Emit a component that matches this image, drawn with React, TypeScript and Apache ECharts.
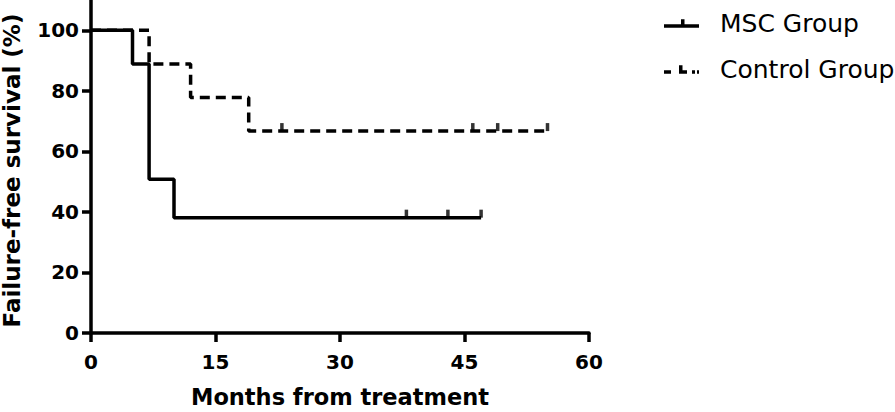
import React, { useEffect, useRef } from "react";
import * as echarts from "echarts";

// Kaplan–Meier step points [month, survival %]
const mscSteps: [number, number][] = [
  [0, 100],
  [5, 88.9],
  [7, 50.8],
  [10, 38.1],
  [47, 38.1],
];
const controlSteps: [number, number][] = [
  [0, 100],
  [7, 88.9],
  [12, 77.8],
  [19, 66.7],
  [55, 66.7],
];
// censored observations
const mscCensored: [number, number][] = [
  [38, 38.1],
  [43, 38.1],
  [47, 38.1],
];
const controlCensored: [number, number][] = [
  [23, 66.7],
  [46, 66.7],
  [49, 66.7],
  [55, 66.7],
];
const xTicks = [0, 15, 30, 45, 60];
const yTicks = [0, 20, 40, 60, 80, 100];
const seriesNames = ["MSC Group", "Control Group"];

const FONT = "DejaVu Sans";

export default function App() {
  const ref = useRef<HTMLDivElement>(null);
  useEffect(() => {
    if (!ref.current) return;
    const chart = echarts.init(ref.current, undefined, { renderer: "svg" });
    const mscIcon =
      "path://M0,6.5 L35,6.5 L35,10 L0,10 Z M17,1.5 L20.5,1.5 L20.5,6.5 L17,6.5 Z";
    const ctrlIcon =
      "path://M0,6.5 L7,6.5 L7,10 L0,10 Z M15,6.5 L23,6.5 L23,10 L15,10 Z M15,1.5 L18.5,1.5 L18.5,6.5 L15,6.5 Z M28,6.5 L31,6.5 L31,10 L28,10 Z M33,6.5 L35,6.5 L35,10 L33,10 Z";
    chart.setOption({
      animation: false,
      grid: {
        left: 91,
        right: 306,
        top: 0,
        bottom: 79,
        containLabel: false,
        outerBoundsMode: "none",
      },
      legend: {
        orient: "vertical",
        left: 664,
        top: 11,
        padding: 0,
        itemWidth: 35,
        itemHeight: 12,
        itemGap: 21,
        textStyle: {
          fontFamily: FONT,
          fontSize: 25,
          lineHeight: 25,
          color: "#000",
          padding: [0, 0, 0, 16],
        },
        data: [
          { name: seriesNames[0], icon: mscIcon },
          { name: seriesNames[1], icon: ctrlIcon },
        ],
      },
      xAxis: {
        type: "value",
        min: xTicks[0],
        max: xTicks[xTicks.length - 1],
        interval: 15,
        name: "Months from treatment",
        nameLocation: "middle",
        nameGap: 52,
        nameTextStyle: {
          fontFamily: FONT,
          fontWeight: "bold",
          fontSize: 22.5,
          color: "#000",
        },
        axisLine: { show: true, lineStyle: { color: "#000", width: 3.5 } },
        axisTick: { show: true, length: 9, lineStyle: { color: "#000", width: 3.5 } },
        axisLabel: {
          margin: 19,
          fontFamily: FONT,
          fontWeight: "bold",
          fontSize: 20,
          color: "#000",
        },
        splitLine: { show: false },
      },
      yAxis: {
        type: "value",
        min: 0,
        max: 110,
        interval: 20,
        name: "Failure-free survival (%)",
        nameLocation: "middle",
        nameGap: 68,
        nameTextStyle: {
          fontFamily: FONT,
          fontWeight: "bold",
          fontSize: 23,
          color: "#000",
          padding: [0, 8, 0, 0],
        },
        axisLine: { show: true, lineStyle: { color: "#000", width: 3.5 } },
        axisTick: {
          show: true,
          length: 9,
          customValues: yTicks,
          lineStyle: { color: "#000", width: 3.5 },
        },
        axisLabel: {
          margin: 12,
          customValues: yTicks,
          fontFamily: FONT,
          fontWeight: "bold",
          fontSize: 20,
          color: "#000",
        },
        splitLine: { show: false },
      },
      series: [
        {
          name: seriesNames[1],
          type: "line",
          step: "end",
          data: controlSteps,
          symbol: "none",
          showSymbol: false,
          color: "#000",
          lineStyle: { color: "#000", width: 3.5, type: [10, 6] },
          z: 2,
        },
        {
          name: seriesNames[0],
          type: "line",
          step: "end",
          data: mscSteps,
          symbol: "none",
          showSymbol: false,
          color: "#000",
          lineStyle: { color: "#000", width: 3.5 },
          z: 3,
        },
        {
          name: "MSC censored",
          type: "scatter",
          data: mscCensored,
          symbol: "rect",
          symbolSize: [3.5, 8],
          symbolOffset: [0, -4],
          itemStyle: { color: "#000" },
          z: 4,
        },
        {
          name: "Control censored",
          type: "scatter",
          data: controlCensored,
          symbol: "rect",
          symbolSize: [3.5, 8],
          symbolOffset: [0, -4],
          itemStyle: { color: "#000" },
          z: 4,
        },
      ],
    });
    return () => chart.dispose();
  }, []);
  return (
    <div
      ref={ref}
      style={{ position: "absolute", left: 0, top: 0, width: 895, height: 412 }}
    />
  );
}
